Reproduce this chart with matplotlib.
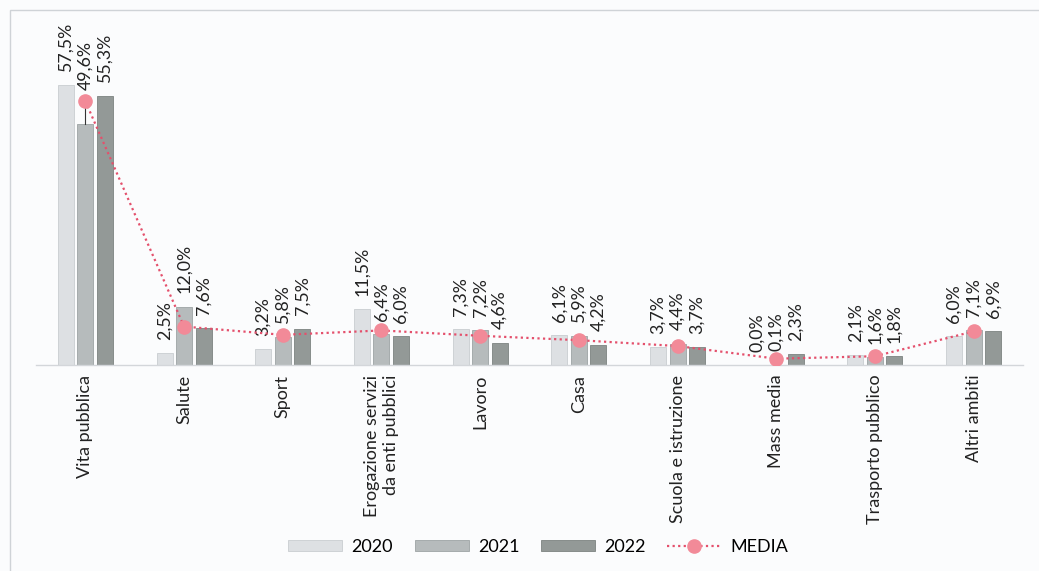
import matplotlib
matplotlib.use("Agg")
import matplotlib.pyplot as plt
import numpy as np
from matplotlib.lines import Line2D
from matplotlib.patches import Rectangle

plt.rcParams['font.family'] = ['Lato', 'DejaVu Sans']

categories = ["Vita pubblica", "Salute", "Sport", "Erogazione servizi\nda enti pubblici",
              "Lavoro", "Casa", "Scuola e istruzione", "Mass media",
              "Trasporto pubblico", "Altri ambiti"]
years = ["2020", "2021", "2022"]
v2020 = [57.5, 2.5, 3.2, 11.5, 7.3, 6.1, 3.7, 0.0, 2.1, 6.0]
v2021 = [49.6, 12.0, 5.8, 6.4, 7.2, 5.9, 4.4, 0.1, 1.6, 7.1]
v2022 = [55.3, 7.6, 7.5, 6.0, 4.6, 4.2, 3.7, 2.3, 1.8, 6.9]
media = [54.2, 7.9, 6.2, 7.1, 6.0, 5.1, 3.9, 1.3, 1.8, 6.9]

colors = ["#dde0e3", "#b6bbbc", "#939997"]
edges = ["#c9cdd0", "#9da3a4", "#7d8381"]
line_col = "#e4506c"
marker_col = "#f28a98"
bg = "#fbfcfd"

fig = plt.figure(figsize=(10.39, 5.71), dpi=100, facecolor=bg)
ax = fig.add_axes([36/1039, 206/571, 987/1039, 292/571])
ax.set_facecolor(bg)

x = np.arange(len(categories))
w = 0.162
step = 0.198
series = [v2020, v2021, v2022]
for i, vals in enumerate(series):
    xs = x + (i - 1) * step
    ax.bar(xs, vals, width=w, color=colors[i], edgecolor=edges[i], linewidth=0.6,
           label=years[i], zorder=2)
    for j, v in enumerate(vals):
        extra = 15 if (i == 1 and j == 0) else 0
        ax.annotate(f"{v:.1f}%".replace(".", ","), (xs[j], v),
                    xytext=(0, 9.5 + extra), textcoords="offset points",
                    rotation=90, ha="center", va="bottom", fontsize=12.8,
                    color="#222222")

# leader line for the 2021 label of Vita pubblica
ax.plot([x[0], x[0]], [v2021[0], media[0]], color="#333333", lw=0.8, zorder=3)

ax.plot(x, media, linestyle=(0, (1, 1.5)), color=line_col, lw=1.6,
        marker="o", markersize=9.5, markerfacecolor=marker_col,
        markeredgecolor=marker_col, zorder=4, label="MEDIA")

ax.set_xlim(-0.5, len(categories) - 0.5)
ax.set_ylim(0, 60)
ax.set_yticks([])
ax.set_xticks(x)
ax.set_xticklabels(categories, rotation=90, ha="center", va="top",
                   multialignment="right", fontsize=13, color="#222222")
ax.tick_params(axis="x", length=0, pad=7)
for s in ["top", "right", "left"]:
    ax.spines[s].set_visible(False)
ax.spines["bottom"].set_color("#d3d6da")
ax.spines["bottom"].set_linewidth(1.0)

handles = [Rectangle((0, 0), 1, 1, facecolor=colors[i], edgecolor=edges[i], lw=0.6)
           for i in range(3)]
handles.append(Line2D([0], [0], linestyle=(0, (1, 1.5)), color=line_col, lw=1.6,
                      marker="o", markersize=9.5, markerfacecolor=marker_col,
                      markeredgecolor=marker_col))
fig.legend(handles, years + ["MEDIA"], loc="center", bbox_to_anchor=(0.518, 24/571),
           ncol=4, frameon=False, fontsize=13, handlelength=3.0, handleheight=0.55,
           handletextpad=0.5, columnspacing=1.2)

# outer frame
fig.add_artist(Rectangle((10/1039, -0.1), 1.2, (571 - 10)/571 + 0.1,
                         transform=fig.transFigure, fill=False,
                         edgecolor="#cfd3d7", lw=1.0))

fig.savefig("out.png", dpi=100, facecolor=bg)
